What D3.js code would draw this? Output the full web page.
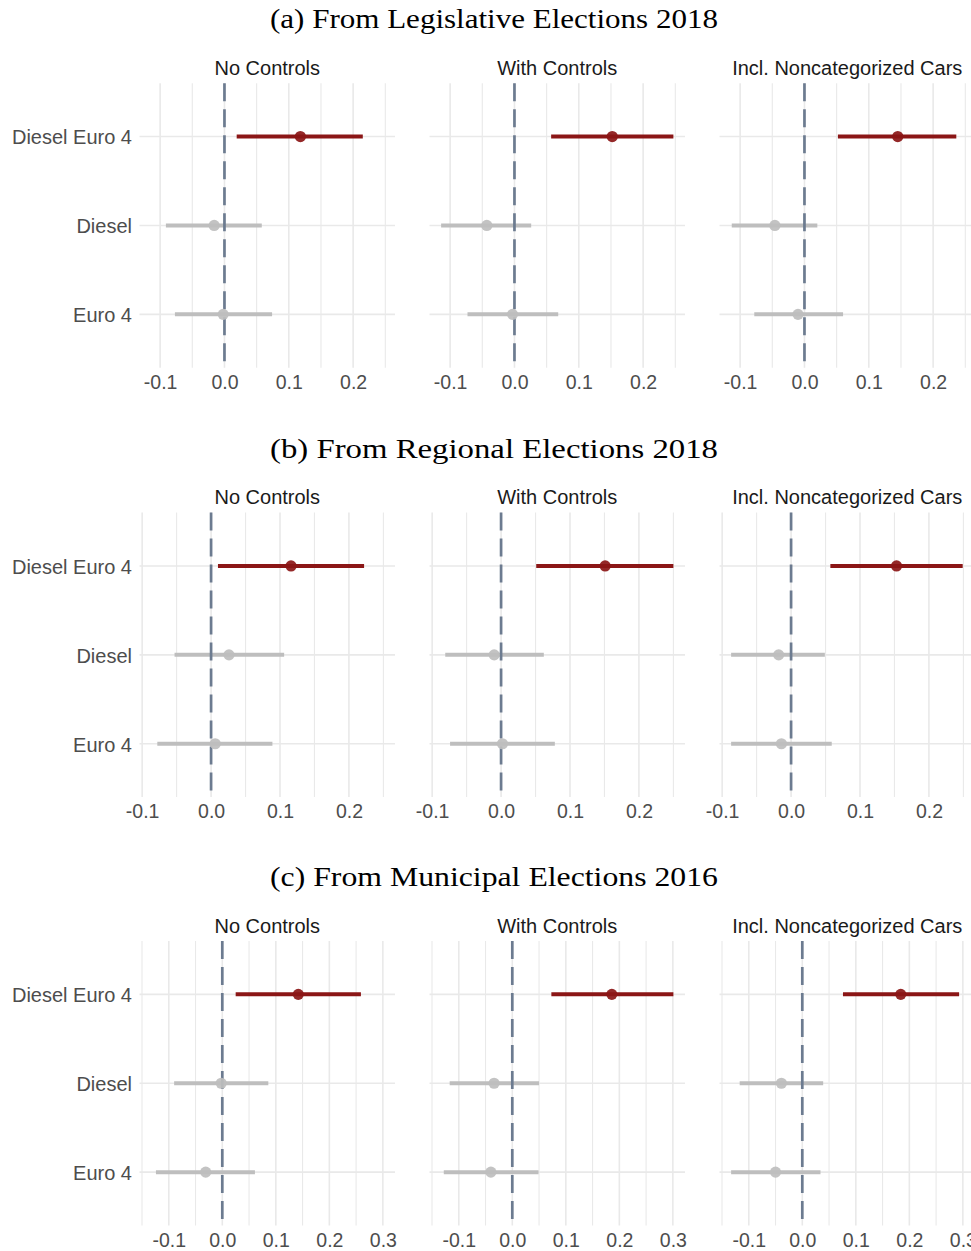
<!DOCTYPE html>
<html>
<head>
<meta charset="utf-8">
<script src="https://cdn.jsdelivr.net/npm/d3@7"></script>
<style>
  html, body { margin: 0; padding: 0; background: #fff; }
  svg { display: block; }
</style>
</head>
<body>
<svg id="chart" width="971" height="1251"></svg>
<script>
// ---------------- DATA ----------------
const rowTitles = [
  "(a) From Legislative Elections 2018",
  "(b) From Regional Elections 2018",
  "(c) From Municipal Elections 2016"
];
const models = ["No Controls", "With Controls", "Incl. Noncategorized Cars"];
const terms = ["Diesel Euro 4", "Diesel", "Euro 4"];
const highlightTerm = "Diesel Euro 4";

// per row: [model][term]
const legislativeEst  = [[0.118, -0.016, -0.002], [0.152, -0.043, -0.003], [0.145, -0.046, -0.010]];
const legislativeLow  = [[0.019, -0.091, -0.077], [0.057, -0.114, -0.073], [0.052, -0.113, -0.078]];
const legislativeHigh = [[0.215,  0.058,  0.074], [0.247,  0.026,  0.068], [0.236,  0.020,  0.060]];

const regionalEst  = [[0.116,  0.026,  0.006], [0.151, -0.010,  0.002], [0.153, -0.018, -0.014]];
const regionalLow  = [[0.010, -0.053, -0.078], [0.051, -0.081, -0.074], [0.057, -0.087, -0.087]];
const regionalHigh = [[0.222,  0.106,  0.089], [0.250,  0.062,  0.078], [0.249,  0.049,  0.059]];

const municipalEst  = [[0.142, -0.002, -0.031], [0.186, -0.034, -0.040], [0.184, -0.039, -0.050]];
const municipalLow  = [[0.025, -0.090, -0.124], [0.073, -0.117, -0.128], [0.076, -0.117, -0.133]];
const municipalHigh = [[0.259,  0.086,  0.061], [0.301,  0.050,  0.049], [0.293,  0.039,  0.034]];

const tickLabelsAB = [-0.1, 0.0, 0.1, 0.2];
const tickLabelsC  = [-0.1, 0.0, 0.1, 0.2, 0.3];

const rowData = [
  { est: legislativeEst, low: legislativeLow, high: legislativeHigh, ticks: tickLabelsAB },
  { est: regionalEst,    low: regionalLow,    high: regionalHigh,    ticks: tickLabelsAB },
  { est: municipalEst,   low: municipalLow,   high: municipalHigh,   ticks: tickLabelsC }
];

// ---------------- LAYOUT ----------------
const svg = d3.select("#chart");
const panelW = 255.5, panelH = 284.5;
const panelLefts = [139.5, 429.5, 719.5];
const rowTops = [83.2, 512.6, 941];
const titleCenterX = 494;

const colRed = "#8b1616";
const colGray = "#bebebe";
const gridCol = "#e9e9e9";
const zeroCol = "#6c7b90";
const fmt = d => d3.format(".1f")(d).replace("\u2212", "-");

rowData.forEach((row, ri) => {
  const top = rowTops[ri];
  const allVals = row.low.flat().concat(row.high.flat(), row.est.flat());
  const [mn, mx] = d3.extent(allVals);
  const pad = (mx - mn) * 0.05;
  const domain = [mn - pad, mx + pad];

  // row title
  svg.append("text")
    .attr("x", titleCenterX)
    .attr("y", top - 55)
    .attr("text-anchor", "middle")
    .attr("font-family", "Liberation Serif, Times New Roman, serif")
    .attr("font-size", 28)
    .attr("fill", "#000")
    .attr("textLength", 448)
    .attr("lengthAdjust", "spacingAndGlyphs")
    .text(rowTitles[ri]);

  models.forEach((model, mi) => {
    const left = panelLefts[mi];
    const x = d3.scaleLinear().domain(domain).range([left, left + panelW]);
    const y = d3.scalePoint().domain(terms).range([top, top + panelH]).padding(0.6);
    const g = svg.append("g");

    // minor grid
    const major = row.ticks;
    const step = major[1] - major[0];
    const minor = [];
    for (let i = -1; i < major.length; i++) {
      const v = (i < 0 ? major[0] : major[i]) + (i < 0 ? -step / 2 : step / 2);
      if (v >= domain[0] && v <= domain[1]) minor.push(v);
    }
    g.selectAll(".minor").data(minor).join("line")
      .attr("x1", d => x(d)).attr("x2", d => x(d))
      .attr("y1", top).attr("y2", top + panelH)
      .attr("stroke", gridCol).attr("stroke-width", 1.1);

    // major vertical grid
    g.selectAll(".majorx").data(major).join("line")
      .attr("x1", d => x(d)).attr("x2", d => x(d))
      .attr("y1", top).attr("y2", top + panelH)
      .attr("stroke", gridCol).attr("stroke-width", 1.6);

    // horizontal grid
    g.selectAll(".majory").data(terms).join("line")
      .attr("x1", left).attr("x2", left + panelW)
      .attr("y1", d => y(d)).attr("y2", d => y(d))
      .attr("stroke", gridCol).attr("stroke-width", 1.6);

    // x-axis via d3.axisBottom
    const axis = d3.axisBottom(x).tickValues(major).tickSize(0).tickPadding(0)
      .tickFormat(fmt);
    const ag = g.append("g").attr("transform", `translate(0,${top + panelH})`).call(axis);
    ag.select(".domain").remove();
    ag.selectAll("text")
      .attr("y", 21).attr("dy", 0)
      .attr("font-family", "Liberation Sans, Arial, sans-serif")
      .attr("font-size", 19.5)
      .attr("fill", "#4d4d4d");

    // y-axis labels (first column only)
    if (mi === 0) {
      const yAxis = d3.axisLeft(y).tickSize(0).tickPadding(7.5);
      const yg = g.append("g").attr("transform", `translate(${left},0)`).call(yAxis);
      yg.select(".domain").remove();
      yg.selectAll("text")
        .attr("dy", "0.37em")
        .attr("font-family", "Liberation Sans, Arial, sans-serif")
        .attr("font-size", 20)
        .attr("fill", "#4d4d4d");
    }

    // strip title
    g.append("text")
      .attr("x", left + panelW / 2)
      .attr("y", top - 8.3)
      .attr("text-anchor", "middle")
      .attr("font-family", "Liberation Sans, Arial, sans-serif")
      .attr("font-size", 20)
      .attr("fill", "#1a1a1a")
      .text(model);

    const pts = terms.map((t, ti) => ({
      term: t, est: row.est[mi][ti], low: row.low[mi][ti], high: row.high[mi][ti]
    }));

    // error bars
    g.selectAll(".bar").data(pts).join("line")
      .attr("x1", d => x(d.low)).attr("x2", d => x(d.high))
      .attr("y1", d => y(d.term)).attr("y2", d => y(d.term))
      .attr("stroke", d => d.term === highlightTerm ? colRed : colGray)
      .attr("stroke-width", 4);

    // zero line
    g.append("line")
      .attr("x1", x(0)).attr("x2", x(0))
      .attr("y1", top).attr("y2", top + panelH)
      .attr("stroke", zeroCol).attr("stroke-width", 2.7)
      .attr("stroke-dasharray", "18 8");

    // points
    g.selectAll(".pt").data(pts).join("circle")
      .attr("cx", d => x(d.est)).attr("cy", d => y(d.term))
      .attr("r", 5.6)
      .attr("fill", d => d.term === highlightTerm ? colRed : colGray)
      .attr("fill-opacity", 0.92);
  });
});
</script>
</body>
</html>
